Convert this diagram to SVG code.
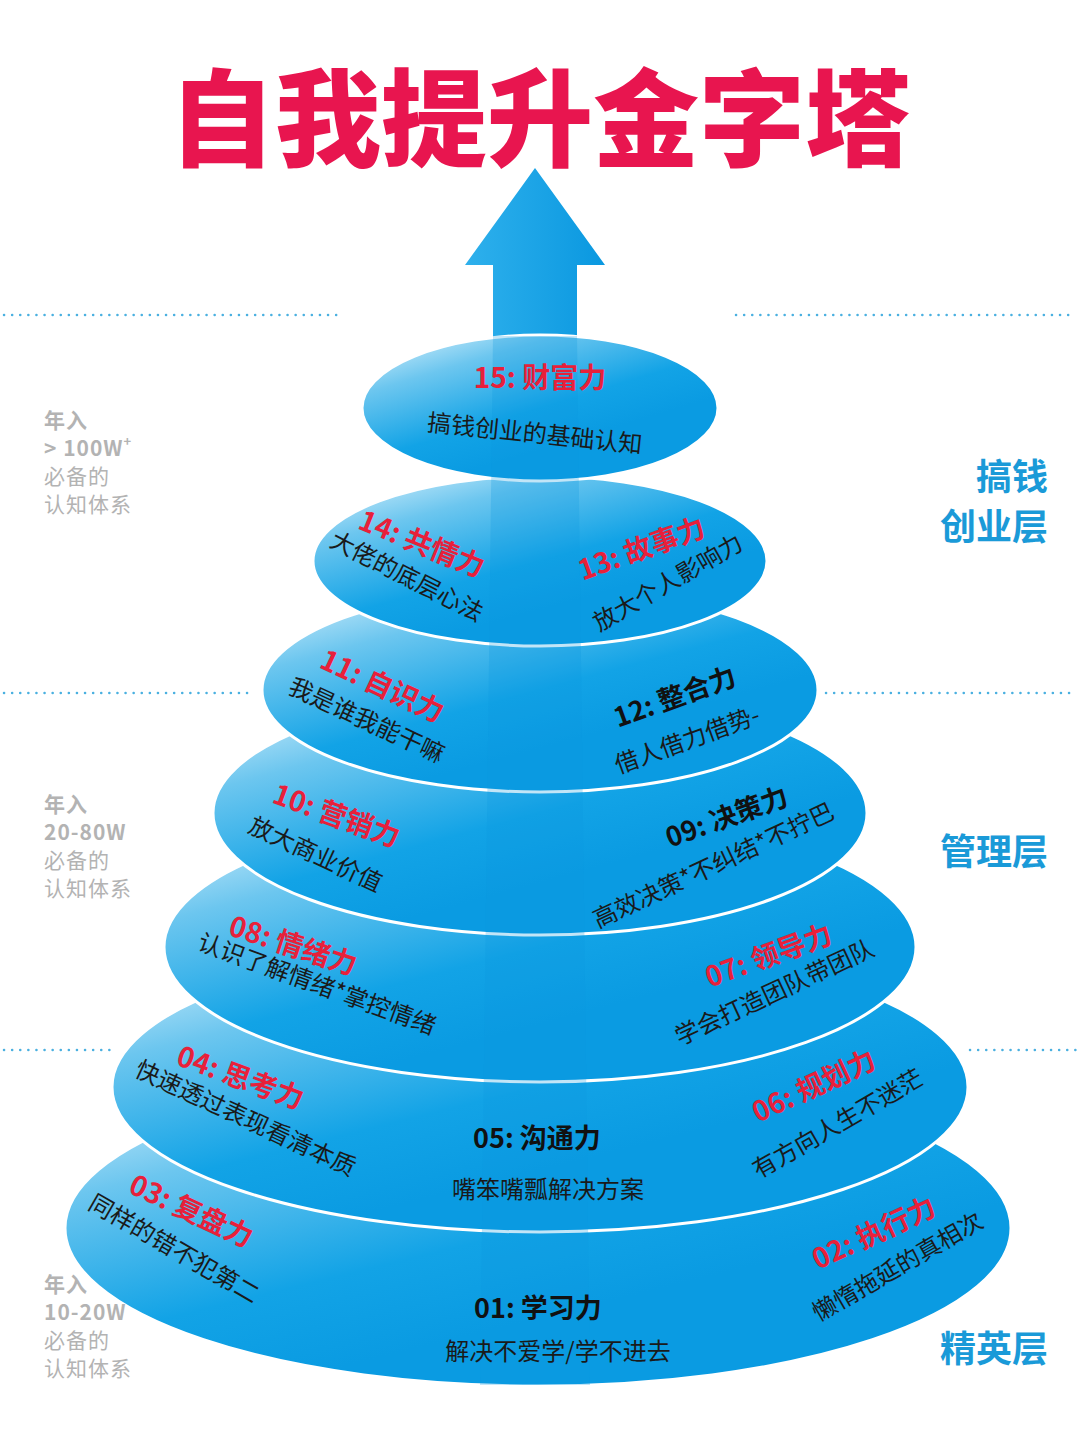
<svg xmlns="http://www.w3.org/2000/svg" width="1080" height="1440" viewBox="0 0 1080 1440">
<defs>
<linearGradient id="g" x1="0" y1="0" x2="0.55" y2="0.75">
<stop offset="0" stop-color="#e6f6fd"/><stop offset="0.35" stop-color="#6cc6ef"/><stop offset="0.75" stop-color="#12a3e6"/><stop offset="1" stop-color="#0a9be2"/>
</linearGradient>
<linearGradient id="ar" x1="0" y1="0" x2="1" y2="0">
<stop offset="0" stop-color="#2eb0ec"/><stop offset="1" stop-color="#0a98e0"/>
</linearGradient>
<style>
.d{fill:url(#g);stroke:#fff;stroke-width:3}
.t{font-family:"Noto Sans CJK SC",sans-serif;font-weight:700;fill:#e8203a;font-size:28px;text-anchor:middle}
.s{font-family:"Noto Sans CJK SC",sans-serif;fill:#1a1a1a;font-size:24px;text-anchor:middle}
.k{font-family:"Noto Sans CJK SC",sans-serif;fill:#111;font-weight:700;font-size:27px;text-anchor:middle}
.l{font-family:"Noto Sans CJK SC",sans-serif;fill:#b3b3b3;font-size:21px;letter-spacing:1px}
.lb{font-weight:700}
.r{font-family:"Noto Sans CJK SC",sans-serif;fill:#1a9ad8;font-weight:700;font-size:36px;text-anchor:end}
.dot{stroke:#4ab0e0;stroke-width:2.5;stroke-dasharray:0.1 8;stroke-linecap:round}
</style>
</defs>
<rect width="1080" height="1440" fill="#fff"/>
<text x="540" y="158" font-family="Noto Sans CJK SC,sans-serif" font-weight="900" font-size="106" fill="#e8154f" text-anchor="middle">自我提升金字塔</text>
<g id="lines">
<line class="dot" x1="4" y1="315" x2="340" y2="315"/><line class="dot" x1="736" y1="315" x2="1076" y2="315"/>
<line class="dot" x1="4" y1="693" x2="248" y2="693"/><line class="dot" x1="826" y1="693" x2="1076" y2="693"/>
<line class="dot" x1="4" y1="1050" x2="115" y2="1050"/><line class="dot" x1="970" y1="1050" x2="1076" y2="1050"/>
</g>
<g id="arrow"><path d="M535 168 L605 265 L577 265 L577 420 L493 420 L493 265 L465 265 Z" fill="url(#ar)"/></g>
<g id="discs">
<ellipse class="d" cx="538" cy="1228" rx="473" ry="158"/>
<ellipse class="d" cx="540" cy="1087" rx="428" ry="145"/>
<ellipse class="d" cx="540" cy="947" rx="376" ry="135"/>
<ellipse class="d" cx="540" cy="813" rx="327" ry="122"/>
<ellipse class="d" cx="540" cy="690" rx="278" ry="102"/>
<ellipse class="d" cx="540" cy="561" rx="227" ry="85"/>
<ellipse class="d" cx="540" cy="408" rx="178" ry="73"/>
<path d="M493 336 L577 336 L590 1385 L480 1385 Z" fill="#0a98e0" opacity="0.25"/>
</g>
<g id="n15"><text class="t" x="540" y="388">15: 财富力</text><text class="s" x="535" y="442" font-size="26" transform="rotate(6 535 432)">搞钱创业的基础认知</text></g>
<g id="n14"><text class="t" transform="translate(418,553) rotate(22)">14: 共情力</text><text class="s" transform="translate(403,584) rotate(27)">大佬的底层心法</text></g>
<g id="n13"><text class="t" transform="translate(645,558) rotate(-20)">13: 故事力</text><text class="s" transform="translate(672,590) rotate(-30)">放大个人影响力</text></g>
<g id="n11"><text class="t" transform="translate(378,695) rotate(25)">11: 自识力</text><text class="s" transform="translate(363,728) rotate(25)">我是谁我能干嘛</text></g>
<g id="n12"><text class="k" transform="translate(678,706) rotate(-20)">12: 整合力</text><text class="s" transform="translate(690,748) rotate(-20)">借人借力借势-</text></g>
<g id="n10"><text class="t" transform="translate(333,825) rotate(20)">10: 营销力</text><text class="s" transform="translate(312,862) rotate(25)">放大商业价值</text></g>
<g id="n09"><text class="k" transform="translate(730,826) rotate(-20)">09: 决策力</text><text class="s" transform="translate(717,873) rotate(-25)">高效决策*不纠结*不拧巴</text></g>
<g id="n08"><text class="t" transform="translate(290,955) rotate(18)">08: 情绪力</text><text class="s" transform="translate(314,992) rotate(20)">认识了解情绪*掌控情绪</text></g>
<g id="n07"><text class="t" transform="translate(772,965) rotate(-20)">07: 领导力</text><text class="s" transform="translate(778,1000) rotate(-25)">学会打造团队带团队</text></g>
<g id="n04"><text class="t" transform="translate(237,1087) rotate(20)">04: 思考力</text><text class="s" transform="translate(242,1126) rotate(25)">快速透过表现看清本质</text></g>
<g id="n05"><text class="k" x="537" y="1148">05: 沟通力</text><text class="s" x="548" y="1198">嘴笨嘴瓢解决方案</text></g>
<g id="n06"><text class="t" transform="translate(818,1095) rotate(-25)">06: 规划力</text><text class="s" transform="translate(842,1131) rotate(-30)">有方向人生不迷茫</text></g>
<g id="n03"><text class="t" transform="translate(187,1220) rotate(25)">03: 复盘力</text><text class="s" transform="translate(170,1256) rotate(30)">同样的错不犯第二</text></g>
<g id="n01"><text class="k" x="538" y="1318">01: 学习力</text><text class="s" x="558" y="1360">解决不爱学/学不进去</text></g>
<g id="n02"><text class="t" transform="translate(878,1242) rotate(-25)">02: 执行力</text><text class="s" transform="translate(902,1274) rotate(-30)">懒惰拖延的真相次</text></g>
<g id="left">
<text class="l"><tspan class="lb" x="44" y="428">年入</tspan><tspan class="lb" x="44" y="456">&gt; 100W<tspan font-size="13" dy="-10">+</tspan></tspan><tspan x="44" y="484">必备的</tspan><tspan x="44" y="512">认知体系</tspan></text>
<text class="l"><tspan class="lb" x="44" y="812">年入</tspan><tspan class="lb" x="44" y="840">20-80W</tspan><tspan x="44" y="868">必备的</tspan><tspan x="44" y="896">认知体系</tspan></text>
<text class="l"><tspan class="lb" x="44" y="1292">年入</tspan><tspan class="lb" x="44" y="1320">10-20W</tspan><tspan x="44" y="1348">必备的</tspan><tspan x="44" y="1376">认知体系</tspan></text>
</g>
<g id="right">
<text class="r" x="1048" y="490">搞钱</text><text class="r" x="1048" y="540">创业层</text>
<text class="r" x="1048" y="865">管理层</text>
<text class="r" x="1048" y="1362">精英层</text>
</g>
</svg>
